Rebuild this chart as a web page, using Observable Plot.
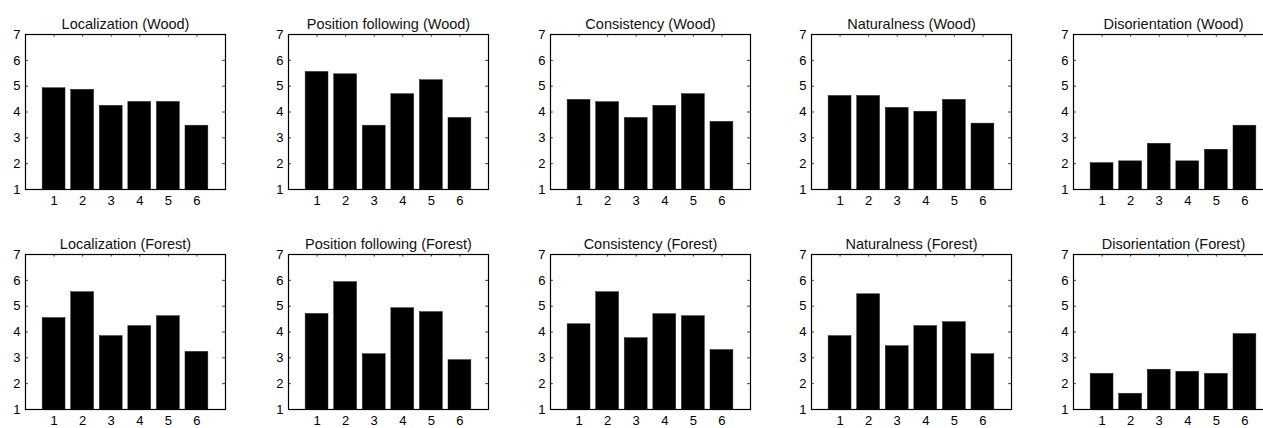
<!DOCTYPE html>
<html>
<head>
<meta charset="utf-8">
<script src="https://cdn.jsdelivr.net/npm/d3@7"></script>
<script src="https://cdn.jsdelivr.net/npm/@observablehq/plot@0.6"></script>
<style>
  html, body { margin: 0; padding: 0; background: white; }
  #wrap { position: relative; width: 1263px; height: 428px; overflow: hidden; background: white; }
  #wrap > div { position: absolute; width: 262px; height: 220px; }
  #wrap svg { max-width: none !important; }
  #wrap svg g[aria-label$="tick label"] { font-size: 13px !important; }
</style>
</head>
<body>
<div id="wrap"></div>
<script>
// ---- data ----
const categories = [1, 2, 3, 4, 5, 6];
const yTicks = [1, 2, 3, 4, 5, 6, 7];

const titles = [
  "Localization (Wood)", "Position following (Wood)", "Consistency (Wood)", "Naturalness (Wood)", "Disorientation (Wood)",
  "Localization (Forest)", "Position following (Forest)", "Consistency (Forest)", "Naturalness (Forest)", "Disorientation (Forest)"
];

const localizationWood      = [4.92, 4.86, 4.24, 4.39, 4.39, 3.47];
const positionWood          = [5.55, 5.46, 3.47, 4.69, 5.23, 3.77];
const consistencyWood       = [4.47, 4.38, 3.77, 4.24, 4.69, 3.62];
const naturalnessWood       = [4.62, 4.62, 4.16, 4.01, 4.47, 3.55];
const disorientationWood    = [2.02, 2.09, 2.77, 2.09, 2.54, 3.47];
const localizationForest    = [4.54, 5.54, 3.84, 4.23, 4.61, 3.23];
const positionForest        = [4.70, 5.93, 3.14, 4.92, 4.77, 2.91];
const consistencyForest     = [4.30, 5.54, 3.76, 4.69, 4.61, 3.30];
const naturalnessForest     = [3.84, 5.46, 3.45, 4.23, 4.38, 3.14];
const disorientationForest  = [2.38, 1.61, 2.54, 2.46, 2.38, 3.92];

const series = [
  localizationWood, positionWood, consistencyWood, naturalnessWood, disorientationWood,
  localizationForest, positionForest, consistencyForest, naturalnessForest, disorientationForest
];

// ---- layout ----
const colLeft = [0, 263, 524.5, 786, 1048];
const rowTop = [0, 220];
const wrap = document.getElementById("wrap");
const font = "'Liberation Sans', Arial, Helvetica, sans-serif";

series.forEach((vals, k) => {
  const row = Math.floor(k / 5), col = k % 5;
  const data = categories.map((c, i) => ({c, v: vals[i]}));
  const chart = Plot.plot({
    width: 262,
    height: 220,
    marginTop: 34,
    marginBottom: 31,
    marginLeft: 25,
    marginRight: 37,
    style: {fontFamily: font, fontSize: "13px", color: "black", background: "white", overflow: "visible"},
    x: {domain: [0, 7], label: null},
    y: {domain: [1, 7], label: null},
    marks: [
      Plot.rectY(data, {x1: d => d.c - 0.4, x2: d => d.c + 0.4, y1: 1, y2: "v", fill: "black", stroke: "#222", strokeWidth: 0.5}),
      Plot.axisX({ticks: categories, tickFormat: d3.format("d"), tickSize: 0, tickPadding: 6, fontSize: 13, label: null}),
      Plot.axisY({ticks: yTicks, tickFormat: d3.format("d"), tickSize: 0, tickPadding: 5, fontSize: 13, label: null}),
      // inward ticks (MATLAB style) on all four sides
      Plot.ruleY(yTicks, {y: d => d, x1: 0, x2: 0.1, stroke: "black", strokeWidth: 0.8}),
      Plot.ruleY(yTicks, {y: d => d, x1: 6.9, x2: 7, stroke: "black", strokeWidth: 0.8}),
      Plot.ruleX(categories, {x: d => d, y1: 1, y2: 1.1, stroke: "black", strokeWidth: 0.8}),
      Plot.ruleX(categories, {x: d => d, y1: 6.9, y2: 7, stroke: "black", strokeWidth: 0.8}),
      Plot.frame({stroke: "black", strokeWidth: 1.2}),
      Plot.text([titles[k]], {frameAnchor: "top", dy: -16, fontSize: 14.5, fontWeight: "normal", fill: "#111"})
    ]
  });
  const holder = document.createElement("div");
  holder.style.left = colLeft[col] + "px";
  holder.style.top = rowTop[row] + "px";
  holder.appendChild(chart);
  wrap.appendChild(holder);
});
</script>
</body>
</html>
